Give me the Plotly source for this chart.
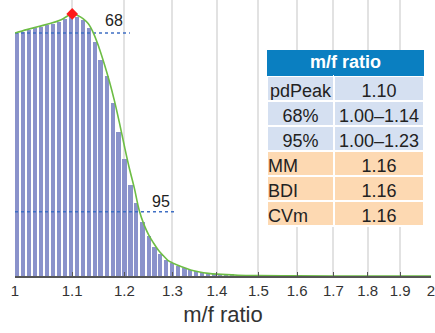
import math
import plotly.graph_objects as go

# Histogram bins (left edges) and heights
bin_left = [1.000, 1.010, 1.020, 1.030, 1.041, 1.051, 1.062, 1.072, 1.083, 1.094,
            1.105, 1.116, 1.127, 1.138, 1.149, 1.161, 1.173, 1.184, 1.196, 1.208,
            1.220, 1.232, 1.245, 1.257, 1.270, 1.282, 1.295, 1.308, 1.321, 1.335,
            1.348, 1.361, 1.375, 1.389, 1.403, 1.417, 1.431, 1.445, 1.460]
bin_height = [0.928, 0.932, 0.940, 0.946, 0.951, 0.957, 0.963, 0.970, 0.979, 0.988,
              0.990, 0.977, 0.945, 0.894, 0.824, 0.763, 0.660, 0.550, 0.447, 0.347,
              0.279, 0.206, 0.153, 0.111, 0.084, 0.061, 0.050, 0.039, 0.032, 0.024,
              0.019, 0.014, 0.011, 0.009, 0.006, 0.005, 0.004, 0.003, 0.002]

# Smoothed density curve
curve_x = [1.00, 1.02, 1.04, 1.06, 1.08, 1.10, 1.11, 1.12, 1.13, 1.14, 1.15, 1.16,
           1.17, 1.18, 1.19, 1.20, 1.21, 1.22, 1.23, 1.24, 1.25, 1.26, 1.27, 1.28,
           1.29, 1.30, 1.32, 1.34, 1.36, 1.38, 1.40, 1.45, 1.50, 1.60, 1.70, 1.80,
           1.90, 2.00]
curve_y = [0.927, 0.940, 0.952, 0.963, 0.978, 1.000, 0.994, 0.982, 0.962, 0.925,
           0.873, 0.812, 0.745, 0.670, 0.585, 0.495, 0.410, 0.335, 0.250, 0.195,
           0.155, 0.125, 0.098, 0.078, 0.060, 0.050, 0.035, 0.023, 0.015, 0.010,
           0.007, 0.003, 0.0015, 0.0005, 0.0001, 0.0, 0.0, 0.0]

peak_x, peak_y = 1.10, 1.0

# Credible interval lines
ci_labels = ["68", "95"]
ci_level = [0.927, 0.245]
ci_end = [1.211, 1.307]
ci_label_x = [1.18, 1.275]
ci_label_y = [0.973, 0.286]

tick_vals = [1, 1.1, 1.2, 1.3, 1.4, 1.5, 1.6, 1.7, 1.8, 1.9, 2]
tick_text = ["1", "1.1", "1.2", "1.3", "1.4", "1.5", "1.6", "1.7", "1.8", "1.9", "2"]

table_header = "m/f ratio"
table_names = ["pdPeak", "68%", "95%", "MM", "BDI", "CVm"]
table_values = ["1.10", "1.00–1.14", "1.00–1.23", "1.16", "1.16", "1.16"]

BLUE_ROW = "#d5e0f1"
PEACH_ROW = "#fdd9b2"
HEADER = "#0a7fc1"
row_colors = [BLUE_ROW, BLUE_ROW, BLUE_ROW, PEACH_ROW, PEACH_ROW, PEACH_ROW]

# first column: centred cells, with trailing no-break spaces to push the
# left-aligned names toward the cell's left edge
NB = "\u00a0"
pad = {"MM": 7, "BDI": 7, "CVm": 5}
names_display = [n + NB * pad.get(n, 0) for n in table_names]

# bar widths (style): ~70% of the bin spacing
bar_width = [0.7 * (b - a) for a, b in zip(bin_left, bin_left[1:])]
bar_width.append(bar_width[-1])

fig = go.Figure()

fig.add_trace(go.Bar(
    x=bin_left, y=bin_height, offset=0, width=bar_width,
    marker=dict(color="#8a92cb", line=dict(width=0)),
    showlegend=False, hoverinfo="skip"))

for lvl, end in zip(ci_level, ci_end):
    fig.add_trace(go.Scatter(
        x=[1.0, end], y=[lvl, lvl], mode="lines",
        line=dict(color="#3f6fc4", width=1.6, dash="dot"),
        showlegend=False, hoverinfo="skip"))

fig.add_trace(go.Scatter(
    x=curve_x, y=curve_y, mode="lines", line=dict(color="#6dbd45", width=1.6, shape="spline"),
    showlegend=False, hoverinfo="skip"))

fig.add_trace(go.Scatter(
    x=[peak_x], y=[peak_y], mode="markers",
    marker=dict(symbol="diamond", size=9, color="#ff1a1a"),
    showlegend=False, hoverinfo="skip"))

# interval labels (annotation x on a log axis is given in log10 units)
for lab, lx, ly in zip(ci_labels, ci_label_x, ci_label_y):
    fig.add_annotation(
        x=math.log10(lx), y=ly, xref="x", yref="y", text=lab, showarrow=False,
        font=dict(family="Liberation Sans, Arial", size=16, color="#222"),
        xanchor="center", yanchor="middle")

fig.add_trace(go.Table(
    domain=dict(x=[0.606, 0.985], y=[0.16, 0.819]),
    columnwidth=[66, 89],
    header=dict(values=["", ""], fill_color=HEADER,
                line=dict(color=HEADER, width=0),
                align="center", height=26),
    cells=dict(values=[names_display, table_values],
               fill_color=[row_colors, row_colors],
               line=dict(color="white", width=2),
               font=dict(family="Liberation Sans, Arial", size=18, color="#222"),
               align=["center", "center"],
               height=25)))

fig.add_annotation(
    xref="paper", yref="paper", x=0.7936, y=0.7736, text="<b>" + table_header + "</b>",
    showarrow=False, font=dict(family="Liberation Sans, Arial", size=18, color="white"),
    xanchor="center", yanchor="middle")

fig.update_layout(
    width=435, height=333,
    margin=dict(l=15, r=1, t=0, b=57),
    paper_bgcolor="white", plot_bgcolor="white",
    font=dict(family="Liberation Sans, Arial", color="#333"),
    bargap=0,
    xaxis=dict(type="log", range=[0, 0.30104], tickvals=tick_vals, ticktext=tick_text,
               ticklabeloverflow="allow",
               showgrid=True, gridcolor="#e2e2e2", gridwidth=1.5,
               ticks="inside", ticklen=4, tickcolor="#555", tickwidth=1,
               showline=True, linecolor="#555", linewidth=1.5,
               tickfont=dict(size=15, color="#333"),
               title=dict(text="m/f ratio", font=dict(size=22, color="#333"), standoff=9),
               zeroline=False),
    yaxis=dict(range=[0, 1.053], showgrid=False, showticklabels=False, zeroline=False,
               showline=False, ticks=""),
)

fig.write_html("out.html")
